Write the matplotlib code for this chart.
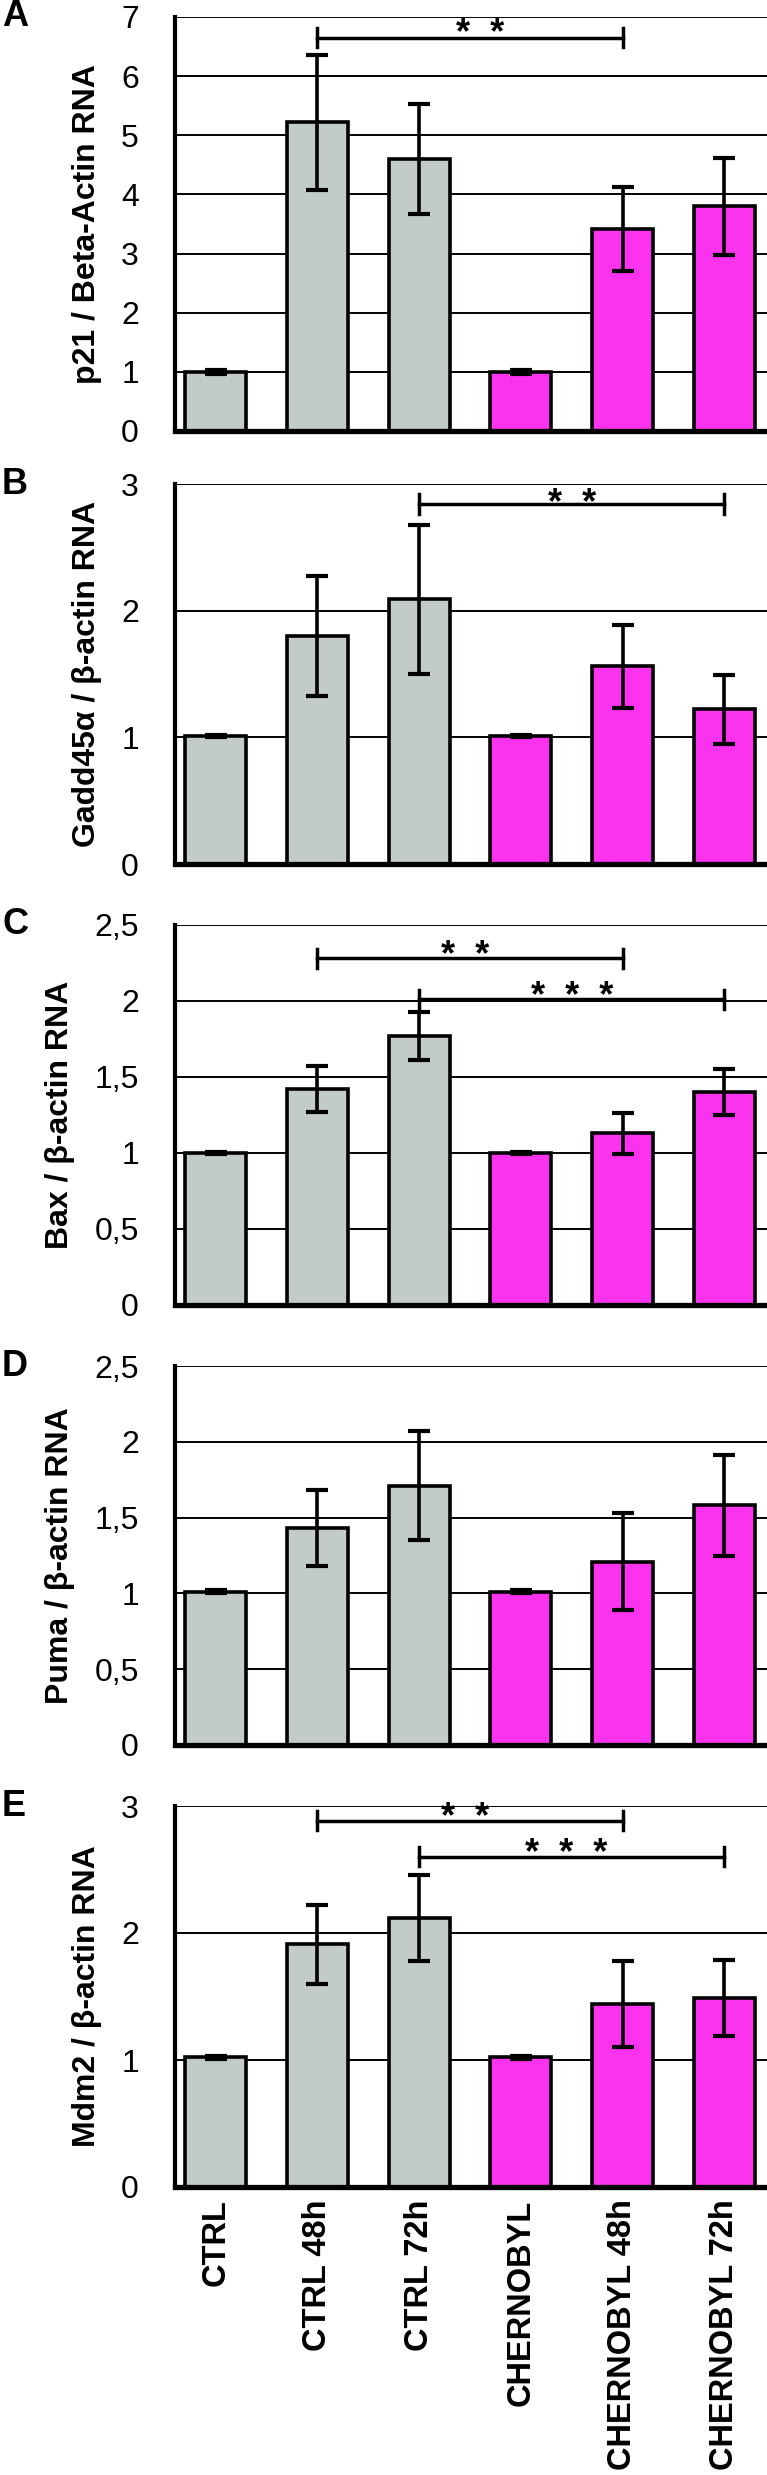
import matplotlib
matplotlib.use("Agg")
import matplotlib.pyplot as plt
from matplotlib.transforms import offset_copy

plt.rcParams['font.family'] = ['Liberation Sans', 'DejaVu Sans']

# ---------------- data ----------------
categories = ["CTRL", "CTRL 48h", "CTRL 72h", "CHERNOBYL", "CHERNOBYL 48h", "CHERNOBYL 72h"]

p21 = [1.00, 5.22, 4.60, 1.00, 3.42, 3.80]
p21_err = [0.03, 1.14, 0.93, 0.03, 0.71, 0.82]

gadd45 = [1.01, 1.80, 2.09, 1.01, 1.56, 1.22]
gadd45_err = [0.01, 0.47, 0.59, 0.01, 0.33, 0.27]

bax = [1.00, 1.42, 1.77, 1.00, 1.13, 1.40]
bax_err = [0.007, 0.15, 0.155, 0.007, 0.135, 0.153]

puma = [1.01, 1.43, 1.71, 1.01, 1.21, 1.58]
puma_err = [0.01, 0.25, 0.36, 0.01, 0.32, 0.33]

mdm2 = [1.02, 1.91, 2.12, 1.02, 1.44, 1.49]
mdm2_err = [0.01, 0.31, 0.34, 0.01, 0.34, 0.30]

ylabels = ["p21 / Beta-Actin RNA", "Gadd45\u03b1 / \u03b2-actin RNA", "Bax / \u03b2-actin RNA",
           "Puma / \u03b2-actin RNA", "Mdm2 / \u03b2-actin RNA"]
panel_letters = ["A", "B", "C", "D", "E"]

yticks_A = [0, 1, 2, 3, 4, 5, 6, 7]
yticks_3 = [0, 1, 2, 3]
yticks_25 = [0, 0.5, 1, 1.5, 2, 2.5]
ticklabels_A = ["0", "1", "2", "3", "4", "5", "6", "7"]
ticklabels_3 = ["0", "1", "2", "3"]
ticklabels_25 = ["0", "0,5", "1", "1,5", "2", "2,5"]

# significance: (bar i, bar j, bracket y, half tick, star y, star x, stars)
sig_A = [(1, 4, 6.65, 0.16, 6.89, 2.6, "*  *")]
sig_B = [(2, 5, 2.84, 0.08, 2.93, 3.5, "*  *")]
sig_C = [(1, 4, 2.28, 0.065, 2.365, 2.45, "*  *"), (2, 5, 2.01, 0.06, 2.10, 3.5, "*  *  *")]
sig_D = []
sig_E = [(1, 4, 2.885, 0.075, 2.99, 2.45, "*  *"), (2, 5, 2.60, 0.075, 2.71, 3.45, "*  *  *")]

grey = "#C2CBC9"
pink = "#FC33EE"
colors = [grey, grey, grey, pink, pink, pink]

# ---------------- layout ----------------
W, H = 767, 2475
fig = plt.figure(figsize=(W / 100, H / 100), dpi=100)

panels = [
    (p21, p21_err, 7, yticks_A, ticklabels_A, sig_A, 17, 431),
    (gadd45, gadd45_err, 3, yticks_3, ticklabels_3, sig_B, 484, 864),
    (bax, bax_err, 2.5, yticks_25, ticklabels_25, sig_C, 925, 1305),
    (puma, puma_err, 2.5, yticks_25, ticklabels_25, sig_D, 1366, 1745),
    (mdm2, mdm2_err, 3, yticks_3, ticklabels_3, sig_E, 1806, 2187),
]

star_fs = 26
left_px = 175
x = list(range(len(categories)))
for k, (vals, errs, ymax, yt, ytl, sig, top, bot) in enumerate(panels):
    ax = fig.add_axes([left_px / W, 1 - bot / H, (W - left_px) / W, (bot - top) / H])
    ax.set_xlim(-0.4, 5.42)
    ax.set_ylim(0, ymax)
    ax.set_yticks(yt)
    ax.set_yticklabels(ytl, fontsize=23)
    ax.tick_params(axis='y', length=0, pad=26)
    ax.set_axisbelow(True)
    ax.yaxis.grid(True, color='black', linewidth=1.4)
    ax.bar(x, vals, width=0.6, color=colors, edgecolor='black', linewidth=2.6, zorder=2)
    ax.errorbar(x, vals, yerr=errs, fmt='none', ecolor='black', elinewidth=2.6,
                capsize=8, capthick=3.0, zorder=3)
    for side in ['top', 'right']:
        ax.spines[side].set_visible(False)
    ax.spines['left'].set_linewidth(3.0)
    ax.spines['bottom'].set_linewidth(3.8)
    ax.set_ylabel(ylabels[k], fontsize=23, fontweight='bold', labelpad=14)
    ax.set_xticks(x)
    if k == len(panels) - 1:
        ax.set_xticklabels(categories, rotation=90, fontsize=23.5, fontweight='bold')
        ax.tick_params(axis='x', length=0, pad=9)
    else:
        ax.set_xticklabels([])
        ax.tick_params(axis='x', length=0)
    # significance brackets
    for (i, j, yb, ht, ys, xs, stars) in sig:
        ax.plot([x[i], x[j]], [yb, yb], color='black', linewidth=2.5, clip_on=False, zorder=4)
        for xx in (x[i], x[j]):
            ax.plot([xx, xx], [yb - ht, yb + ht], color='black', linewidth=2.5,
                    clip_on=False, zorder=4)
        tr = offset_copy(ax.transData, fig=fig, x=0, y=-0.58 * star_fs, units='points')
        ax.text(xs, ys, stars, transform=tr, ha='center', va='baseline', fontsize=star_fs,
                fontweight='bold', clip_on=False, zorder=5)
    fig.text(2 / W, 1 - top / H, panel_letters[k], fontsize=26, fontweight='bold',
             ha='left', va='center')

fig.savefig("out.png", dpi=100)
